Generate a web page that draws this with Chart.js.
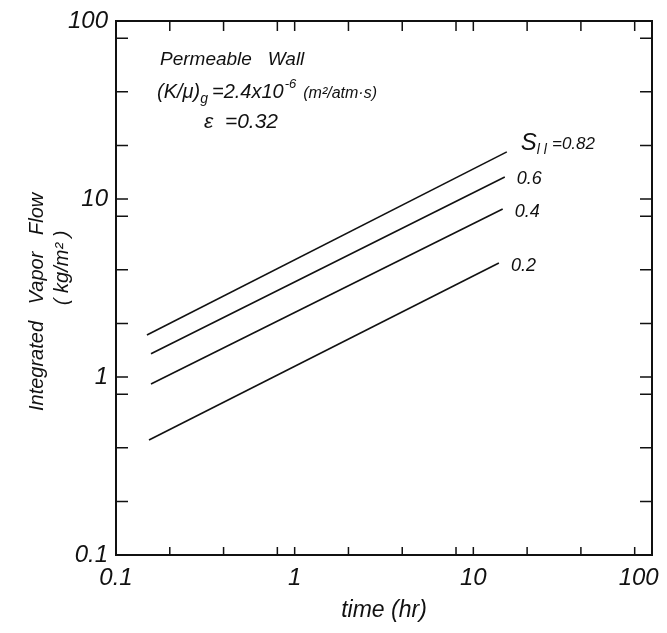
<!DOCTYPE html>
<html>
<head>
<meta charset="utf-8">
<script src="https://cdn.jsdelivr.net/npm/chart.js@4.4.1/dist/chart.umd.min.js"></script>
<style>
  html, body { margin: 0; padding: 0; background: #fff; }
  #wrap { width: 667px; height: 633px; }
</style>
</head>
<body>
<div id="wrap"><canvas id="chart" width="667" height="633"></canvas></div>
<script>
// tick positions (log axes, marks at 1-2-4-8 pattern)
const timeTicks = [0.1, 0.2, 0.4, 0.8, 1, 2, 4, 8, 10, 20, 40, 80, 100];
const flowTicks = [0.1, 0.2, 0.4, 0.8, 1, 2, 4, 8, 10, 20, 40, 80, 100];
const decadeLabels = [0.1, 1, 10, 100];

// series: saturation levels, each a straight line on log-log paper
const saturationLabels = ['0.82', '0.6', '0.4', '0.2'];
const timeS082 = [0.149, 15.4];
const flowS082 = [1.72, 18.4];
const timeS06 = [0.157, 15.0];
const flowS06 = [1.35, 13.3];
const timeS04 = [0.157, 14.6];
const flowS04 = [0.914, 8.79];
const timeS02 = [0.153, 13.9];
const flowS02 = [0.443, 4.37];

const seriesTimes = [timeS082, timeS06, timeS04, timeS02];
const seriesFlows = [flowS082, flowS06, flowS04, flowS02];

const FONT = '"Liberation Sans", "DejaVu Sans", sans-serif';
const INK = '#111';

function fmtTick(v) {
  if (!decadeLabels.includes(v)) return '';
  return v === 0.1 ? '0.1' : String(v);
}

// draws the frame, inward ticks on all four sides and the notes
const paperPlugin = {
  id: 'paper',
  afterDatasetsDraw(chart) {
    const { ctx, chartArea: a, scales } = chart;
    const xs = scales.x, ys = scales.y;
    ctx.save();
    ctx.strokeStyle = INK;
    ctx.lineWidth = 2;
    ctx.strokeRect(a.left, a.top, a.right - a.left, a.bottom - a.top);

    ctx.lineWidth = 1.5;
    ctx.beginPath();
    timeTicks.forEach(v => {
      const px = xs.getPixelForValue(v);
      ctx.moveTo(px, a.bottom); ctx.lineTo(px, a.bottom - 8);
      ctx.moveTo(px, a.top); ctx.lineTo(px, a.top + 10);
    });
    flowTicks.forEach(v => {
      const py = ys.getPixelForValue(v);
      ctx.moveTo(a.left, py); ctx.lineTo(a.left + 12, py);
      ctx.moveTo(a.right, py); ctx.lineTo(a.right - 12, py);
    });
    ctx.stroke();

    ctx.fillStyle = INK;
    ctx.textBaseline = 'alphabetic';
    ctx.textAlign = 'left';

    // header notes
    let x = a.left + 44, y = a.top + 44;
    ctx.font = 'italic 19px ' + FONT;
    ctx.fillText('Permeable   Wall', x, y);

    x = a.left + 41; y = a.top + 77;
    ctx.font = 'italic 20px ' + FONT;
    ctx.fillText('(K/\u03bc)', x, y);
    x += ctx.measureText('(K/\u03bc)').width;
    ctx.font = 'italic 14px ' + FONT;
    ctx.fillText('g', x, y + 5);
    x += ctx.measureText('g').width + 4;
    ctx.font = 'italic 20px ' + FONT;
    ctx.fillText('=2.4x10', x, y);
    x += ctx.measureText('=2.4x10').width;
    ctx.font = 'italic 13px ' + FONT;
    ctx.fillText('-6', x + 1, y - 10);
    x += ctx.measureText('-6').width + 8;
    ctx.font = 'italic 16px ' + FONT;
    ctx.fillText('(m\u00b2/atm\u00b7s)', x, y);

    ctx.font = 'italic 21px ' + FONT;
    ctx.fillText('\u03b5  =0.32', a.left + 88, a.top + 107);

    // series labels at line ends
    ctx.textBaseline = 'middle';
    chart.data.datasets.forEach((ds, i) => {
      const last = ds.data[ds.data.length - 1];
      const px = xs.getPixelForValue(last.x) + 14;
      const py = ys.getPixelForValue(last.y);
      if (i === 0) {
        ctx.font = 'italic 24px ' + FONT;
        ctx.fillText('S', px, py - 9);
        let sx = px + ctx.measureText('S').width;
        ctx.font = 'italic 14px ' + FONT;
        ctx.fillText('l l', sx, py - 2);
        sx += ctx.measureText('l l').width + 5;
        ctx.font = 'italic 17px ' + FONT;
        ctx.fillText('=' + saturationLabels[i], sx, py - 8);
      } else {
        ctx.font = 'italic 18px ' + FONT;
        ctx.fillText(saturationLabels[i], px - 2, py + (i === 1 ? 2 : 3));
      }
    });

    // second line of the y title
    ctx.save();
    ctx.translate(62, ys.getPixelForValue(4.1));
    ctx.rotate(-Math.PI / 2);
    ctx.textAlign = 'center';
    ctx.font = 'italic 20px ' + FONT;
    ctx.fillText('( kg/m\u00b2 )', 0, 0);
    ctx.restore();

    ctx.restore();
  }
};

const datasets = seriesTimes.map((ts, i) => ({
  label: 'S = ' + saturationLabels[i],
  data: ts.map((t, j) => ({ x: t, y: seriesFlows[i][j] })),
  borderColor: INK,
  borderWidth: 1.6,
  pointRadius: 0,
  fill: false,
  tension: 0
}));

new Chart(document.getElementById('chart'), {
  type: 'line',
  data: { datasets },
  plugins: [paperPlugin],
  options: {
    responsive: false,
    animation: false,
    devicePixelRatio: 1,
    layout: { padding: { top: 21, right: 15, left: 0, bottom: 0 } },
    plugins: {
      legend: { display: false },
      tooltip: { enabled: false }
    },
    scales: {
      x: {
        type: 'logarithmic',
        min: 0.1,
        max: 100,
        afterBuildTicks: s => { s.ticks = timeTicks.map(v => ({ value: v })); },
        afterFit: s => { s.height = 78; s.paddingLeft = 0; s.paddingRight = 0; },
        grid: { display: false, drawTicks: false },
        border: { display: false },
        ticks: {
          autoSkip: false,
          maxRotation: 0,
          padding: 9,
          color: INK,
          font: { family: FONT, size: 24, style: 'italic' },
          // the last label sits left of its tick, as on the original sheet
          callback: v => (v === 100 ? '100    ' : fmtTick(v))
        },
        title: {
          display: true,
          text: 'time (hr)',
          color: INK,
          font: { family: FONT, size: 23, style: 'italic' },
          padding: { top: 2, bottom: 9 }
        }
      },
      y: {
        type: 'logarithmic',
        min: 0.1,
        max: 100,
        afterBuildTicks: s => { s.ticks = flowTicks.map(v => ({ value: v })); },
        afterFit: s => { s.width = 116; s.paddingTop = 0; s.paddingBottom = 0; },
        grid: { display: false, drawTicks: false },
        border: { display: false },
        ticks: {
          autoSkip: false,
          padding: 8,
          color: INK,
          font: { family: FONT, size: 24, style: 'italic' },
          callback: v => fmtTick(v)
        },
        title: {
          display: true,
          text: 'Integrated   Vapor   Flow     ',
          color: INK,
          font: { family: FONT, size: 20, style: 'italic' },
          padding: { top: 25, bottom: 0 }
        }
      }
    }
  }
});
</script>
</body>
</html>
